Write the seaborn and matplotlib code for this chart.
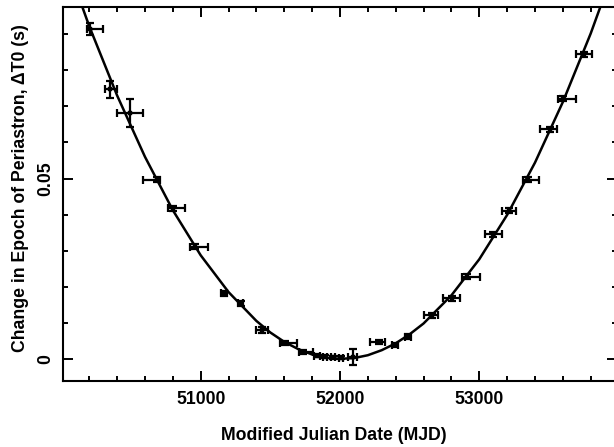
import numpy as np
import pandas as pd
import matplotlib
matplotlib.use("Agg")
import matplotlib.pyplot as plt
from matplotlib.ticker import MultipleLocator
import seaborn as sns

mjd = [50205, 50349, 50492, 50684, 50803, 50959, 51167, 51287, 51438, 51605,
       51737, 51833, 51892, 51952, 52005, 52091, 52280, 52395, 52490, 52658,
       52802, 52910, 53100, 53213, 53352, 53508, 53603, 53752]
dt0 = [0.0914, 0.0747, 0.0681, 0.0496, 0.0417, 0.0311, 0.0182, 0.0154, 0.0080, 0.0043,
       0.0018, 0.0008, 0.0006, 0.0004, 0.0003, 0.0004, 0.0047, 0.0038, 0.0061, 0.0121,
       0.0168, 0.0228, 0.0345, 0.0410, 0.0496, 0.0636, 0.0721, 0.0845]
mjd_err_lo = [20, 36, 96, 100, 36, 36, 20, 20, 43, 36,
              31, 20, 15, 15, 15, 30, 65, 20, 20, 53,
              62, 36, 60, 53, 40, 72, 36, 60]
mjd_err_hi = [95, 52, 91, 24, 84, 95, 20, 20, 43, 84,
              70, 20, 15, 15, 15, 30, 45, 20, 20, 47,
              60, 96, 60, 53, 79, 52, 91, 60]
dt0_err = [0.0017, 0.0024, 0.0039, 0.0007, 0.0007, 0.0007, 0.0007, 0.0007, 0.0009, 0.0006,
           0.0006, 0.0004, 0.0004, 0.0004, 0.0004, 0.0022, 0.0006, 0.0006, 0.0007, 0.0007,
           0.0007, 0.0007, 0.0007, 0.0007, 0.0007, 0.0007, 0.0007, 0.0007]

# fitted curve
curve_mjd = [50000, 50200, 50400, 50600, 50800, 51000, 51200, 51400, 51500, 51600, 51700,
             51800, 51900, 52000, 52100, 52200, 52300, 52400, 52500, 52600, 52800,
             53000, 53200, 53400, 53600, 53800, 54000]
curve_dt0 = [0.1137, 0.0922, 0.0730, 0.0560, 0.0412, 0.0287, 0.0185, 0.0105, 0.0073, 0.0047, 0.0027,
             0.0012, 0.0003, 0.0000, 0.0002, 0.0010, 0.0024, 0.0043, 0.0068, 0.0098, 0.0176,
             0.0276, 0.0399, 0.0544, 0.0712, 0.0902, 0.1115]

xticks = [51000, 52000, 53000]
yticks = [0, 0.05]
ytick_labels = ["0", "0.05"]

sns.set_style("ticks")
plt.rcParams['font.family'] = ['Liberation Sans', 'DejaVu Sans']
plt.rcParams['font.weight'] = 'bold'
plt.rcParams['font.size'] = 12.7
for k in ['text.color', 'axes.labelcolor', 'xtick.color', 'ytick.color', 'axes.edgecolor']:
    plt.rcParams[k] = 'black'

df = pd.DataFrame({"mjd": mjd, "dt0": dt0})
curve = pd.DataFrame({"mjd": curve_mjd, "dt0": curve_dt0})

fig = plt.figure(figsize=(6.14, 4.47), dpi=100)
ax = fig.add_axes([0.1021, 0.1483, 0.9028, 0.8367])

sns.lineplot(data=curve, x="mjd", y="dt0", color="black", lw=1.8, ax=ax)
ax.errorbar(mjd, dt0, xerr=[mjd_err_lo, mjd_err_hi], yerr=dt0_err, fmt="none",
            ecolor="black", elinewidth=1.6, capsize=3.2, capthick=1.6)
sns.scatterplot(data=df, x="mjd", y="dt0", marker="s", s=12, color="black",
                edgecolor="black", ax=ax)

ax.set_xlim(50009, 53989)
ax.set_ylim(-0.00607, 0.09764)
ax.set_xticks(xticks)
ax.set_xticklabels([str(t) for t in xticks])
ax.set_yticks(yticks)
ax.set_yticklabels(ytick_labels, rotation=90, va="center")
ax.xaxis.set_minor_locator(MultipleLocator(200))
ax.yaxis.set_minor_locator(MultipleLocator(0.01))
ax.tick_params(which="both", direction="in", top=True, right=True, width=1.4, color="black",
               labelcolor="black")
ax.tick_params(which="major", length=7.2)
ax.tick_params(which="minor", length=3.6)
ax.tick_params(axis="x", which="major", pad=7.4)
ax.tick_params(axis="y", which="major", pad=6)
for s in ax.spines.values():
    s.set_linewidth(1.5)
    s.set_color("black")

ax.set_xlabel("Modified Julian Date (MJD)", fontweight="bold", color="black")
ax.set_ylabel("Change in Epoch of Periastron, \u0394T0 (s)", fontweight="bold", color="black")
ax.xaxis.set_label_coords(0.489, -0.123)
ax.yaxis.set_label_coords(-0.0613, 0.514)

fig.savefig("out.png", dpi=100)
